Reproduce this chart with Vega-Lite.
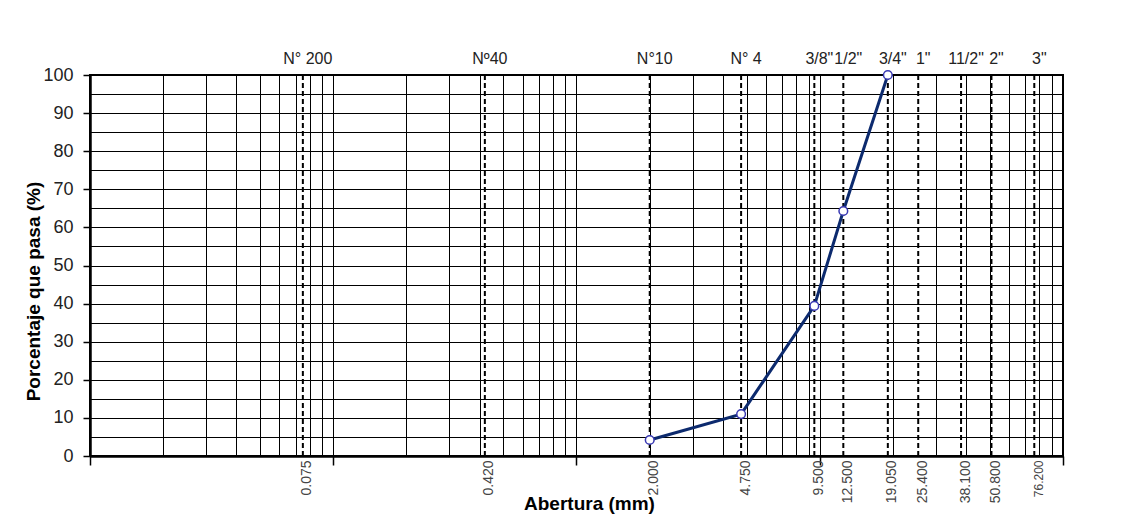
{
  "$schema": "https://vega.github.io/schema/vega-lite/v6.json",
  "width": 973,
  "height": 381,
  "autosize": {"type": "none"},
  "padding": {"left": 90, "top": 75, "right": 71, "bottom": 68},
  "background": "white",
  "config": {
    "font": "Liberation Sans",
    "view": {"stroke": "black", "strokeWidth": 2},
    "axis": {"labelFont": "Liberation Sans", "titleFont": "Liberation Sans"}
  },
  "datasets": {
    "ensayo": [
      {"abertura": 2.0, "pasa": 4.2},
      {"abertura": 4.75, "pasa": 11.0},
      {"abertura": 9.5, "pasa": 39.4},
      {"abertura": 12.5, "pasa": 64.3},
      {"abertura": 19.05, "pasa": 100}
    ],
    "tamices": [
      {"tamiz": "N° 200", "abertura": 0.075},
      {"tamiz": "Nº40", "abertura": 0.42},
      {"tamiz": "N°10", "abertura": 2.0},
      {"tamiz": "N° 4", "abertura": 4.75},
      {"tamiz": "3/8\"", "abertura": 9.5},
      {"tamiz": "1/2\"", "abertura": 12.5},
      {"tamiz": "3/4\"", "abertura": 19.05},
      {"tamiz": "1\"", "abertura": 25.4},
      {"tamiz": "11/2\"", "abertura": 38.1},
      {"tamiz": "2\"", "abertura": 50.8},
      {"tamiz": "3\"", "abertura": 76.2}
    ]
  },
  "resolve": {"axis": {"x": "independent"}},
  "layer": [
    {
      "data": {"name": "tamices"},
      "mark": {"type": "rule", "stroke": "black", "strokeWidth": 2, "strokeDash": [5, 3]},
      "encoding": {
        "x": {
          "field": "abertura",
          "type": "quantitative",
          "scale": {"type": "log", "domain": [0.01, 100], "nice": false},
          "axis": {
            "orient": "bottom",
            "title": null,
            "values": [0.01, 0.02, 0.03, 0.04, 0.05, 0.06, 0.07, 0.08, 0.09,
                       0.1, 0.2, 0.3, 0.4, 0.5, 0.6, 0.7, 0.8, 0.9,
                       1, 2, 3, 4, 5, 6, 7, 8, 9,
                       10, 20, 30, 40, 50, 60, 70, 80, 90, 100],
            "labels": false,
            "grid": true,
            "gridColor": "black",
            "gridWidth": 1,
            "gridOpacity": 1,
            "ticks": true,
            "tickSize": 9,
            "tickWidth": 1.5,
            "tickColor": {
              "condition": {"test": "abs(log(datum.value) / LN10 - round(log(datum.value) / LN10)) < 0.000001", "value": "black"},
              "value": "transparent"
            },
            "domain": true,
            "domainColor": "black",
            "domainWidth": 2.5
          }
        }
      }
    },
    {
      "data": {"name": "tamices"},
      "mark": {"type": "text", "fontSize": 16, "color": "#222", "baseline": "alphabetic", "align": "center", "dy": -11, "dx": 5},
      "encoding": {
        "x": {"field": "abertura", "type": "quantitative", "axis": null},
        "y": {
          "datum": 100,
          "type": "quantitative",
          "scale": {"domain": [0, 100], "nice": false},
          "axis": {
            "title": "Porcentaje que pasa (%)",
            "titleFontSize": 19,
            "titleFontWeight": "bold",
            "titleColor": "black",
            "titleX": -57,
            "titleY": 216,
            "titleBaseline": "middle",
            "titleAlign": "center",
            "values": [0, 5, 10, 15, 20, 25, 30, 35, 40, 45, 50, 55, 60, 65, 70, 75, 80, 85, 90, 95, 100],
            "labelExpr": "datum.value % 10 == 0 ? datum.label : ''",
            "labelOverlap": false,
            "labelFontSize": 18,
            "labelColor": "#222",
            "labelPadding": 10,
            "grid": true,
            "gridColor": "black",
            "gridWidth": 1,
            "gridOpacity": 1,
            "tickSize": 7,
            "tickWidth": 1.5,
            "tickColor": {"condition": {"test": "datum.value % 10 == 0", "value": "black"}, "value": "transparent"},
            "domainColor": "black",
            "domainWidth": 2.5
          }
        },
        "text": {"field": "tamiz"}
      }
    },
    {
      "data": {"name": "ensayo"},
      "mark": {
        "type": "line",
        "stroke": "#0c2a6e",
        "strokeWidth": 3,
        "point": {"shape": "circle", "size": 75, "filled": true, "fill": "white", "stroke": "#3a3ab4", "strokeWidth": 1.5, "opacity": 1}
      },
      "encoding": {
        "x": {
          "field": "abertura",
          "type": "quantitative",
          "axis": {
            "orient": "bottom",
            "title": "Abertura (mm)",
            "titleFontSize": 19,
            "titleFontWeight": "bold",
            "titleColor": "black",
            "titleBaseline": "alphabetic",
            "titleX": 499,
            "titleY": 53,
            "values": [0.075, 0.42, 2, 4.75, 9.5, 12.5, 19.05, 25.4, 38.1, 50.8, 76.2],
            "format": ".3f",
            "labelAngle": -90,
            "labelAlign": "right",
            "labelBaseline": "middle",
            "labelPadding": 4,
            "labelOffset": 4,
            "labelColor": "#444",
            "labelFontSize": {"condition": {"test": "datum.value > 70", "value": 12}, "value": 14},
            "labelOverlap": false,
            "labelBound": false,
            "labelFlush": false,
            "grid": false,
            "ticks": false,
            "domain": false
          }
        },
        "y": {
          "field": "pasa",
          "type": "quantitative",
          "scale": {"domain": [0, 100], "nice": false},
          "axis": {
            "title": "Porcentaje que pasa (%)",
            "titleFontSize": 19,
            "titleFontWeight": "bold",
            "titleColor": "black",
            "titleX": -57,
            "titleY": 216,
            "titleBaseline": "middle",
            "titleAlign": "center",
            "values": [0, 5, 10, 15, 20, 25, 30, 35, 40, 45, 50, 55, 60, 65, 70, 75, 80, 85, 90, 95, 100],
            "labelExpr": "datum.value % 10 == 0 ? datum.label : ''",
            "labelOverlap": false,
            "labelFontSize": 18,
            "labelColor": "#222",
            "labelPadding": 10,
            "grid": true,
            "gridColor": "black",
            "gridWidth": 1,
            "gridOpacity": 1,
            "tickSize": 7,
            "tickWidth": 1.5,
            "tickColor": {"condition": {"test": "datum.value % 10 == 0", "value": "black"}, "value": "transparent"},
            "domainColor": "black",
            "domainWidth": 2.5
          }
        }
      }
    }
  ]
}
